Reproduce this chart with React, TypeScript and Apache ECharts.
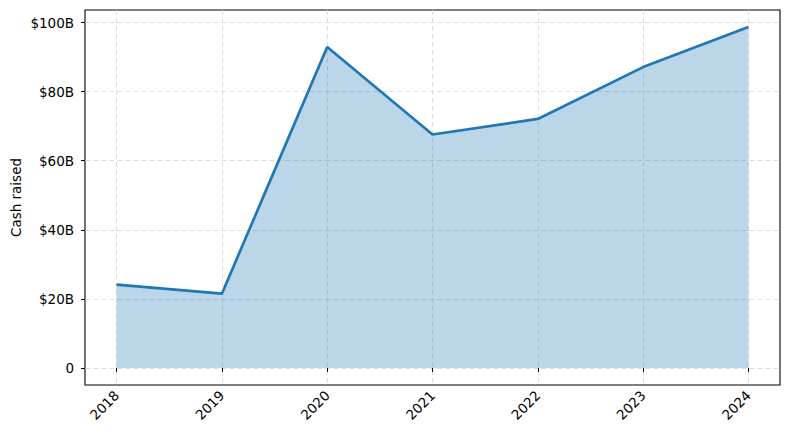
import { useEffect, useRef } from "react";
import * as echarts from "echarts";

const years = [2018, 2019, 2020, 2021, 2022, 2023, 2024];
const cashRaised = [24.1, 21.5, 92.9, 67.6, 72.1, 87.1, 98.7];
const yTicks = [0, 20, 40, 60, 80, 100];

const FONT = "DejaVu Sans";

export default function App() {
  const ref = useRef<HTMLDivElement | null>(null);

  useEffect(() => {
    if (!ref.current) return;
    const chart = echarts.init(ref.current, null, { renderer: "svg" });

    const maxV = Math.max(...cashRaised);
    const pad = maxV * 0.05;
    const xPad = (years[years.length - 1] - years[0]) * 0.05;

    chart.setOption({
      animation: false,
      backgroundColor: "#fff",
      grid: {
        left: 85,
        right: 10,
        top: 10,
        bottom: 55,
        outerBoundsMode: "none",
        show: true,
        borderColor: "#000",
        borderWidth: 1.1,
        backgroundColor: "transparent",
      },
      xAxis: {
        type: "value",
        min: years[0] - xPad,
        max: years[years.length - 1] + xPad,
        axisLine: { show: false },
        axisTick: {
          show: true,
          length: 4,
          lineStyle: { color: "#000" },
          customValues: years,
        },
        axisLabel: {
          rotate: 45,
          margin: 8,
          color: "#000",
          fontFamily: FONT,
          fontSize: 13.5,
          customValues: years,
          formatter: (v: number) => String(v),
        },
        splitLine: {
          show: true,
          lineStyle: { color: "#d4d4d4", type: [5, 3], width: 0.8 },
        },
      },
      yAxis: {
        type: "value",
        min: -pad,
        max: maxV + pad,
        name: "Cash raised",
        nameLocation: "middle",
        nameGap: 62,
        nameMoveOverlap: false,
        nameTextStyle: { color: "#000", fontFamily: FONT, fontSize: 13.5 },
        axisLine: { show: false },
        axisTick: {
          show: true,
          length: 4,
          lineStyle: { color: "#000" },
          customValues: yTicks,
        },
        axisLabel: {
          margin: 11,
          color: "#000",
          fontFamily: FONT,
          fontSize: 13.5,
          customValues: yTicks,
          formatter: (v: number) => (v === 0 ? "0" : `$${v}B`),
        },
        splitLine: {
          show: true,
          lineStyle: { color: "#d4d4d4", type: [5, 3], width: 0.8 },
        },
      },
      series: [
        {
          type: "line",
          data: years.map((y, i) => [y, cashRaised[i]]),
          showSymbol: false,
          lineStyle: { color: "#1f77b4", width: 2.7 },
          itemStyle: { color: "#1f77b4" },
          areaStyle: { color: "#1f77b4", opacity: 0.3, origin: 0 },
        },
      ],
    });

    return () => chart.dispose();
  }, []);

  return (
    <div
      ref={ref}
      style={{ position: "fixed", left: 0, top: 0, width: 790, height: 440 }}
    />
  );
}
